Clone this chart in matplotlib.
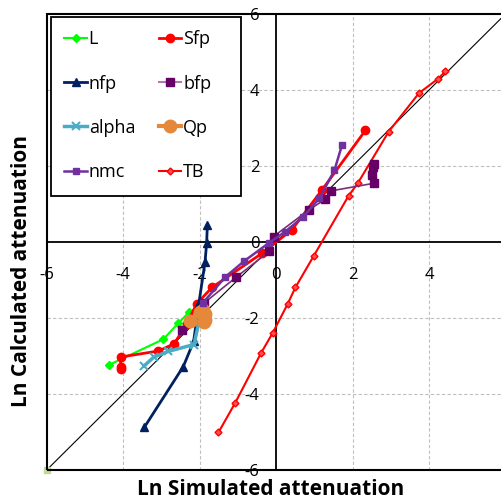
import matplotlib
matplotlib.use("Agg")
import matplotlib.pyplot as plt
from matplotlib.patches import Rectangle

plt.rcParams['font.family'] = ['Open Sans', 'DejaVu Sans']

# ---- data (ln simulated, ln calculated) ----
L_x = [-4.38, -2.95, -2.56, -2.27, -2.02]
L_y = [-3.24, -2.56, -2.14, -1.84, -1.72]

Sfp_x = [-4.07, -4.07, -4.07, -3.08, -2.67, -2.34, -2.08, -1.68, -0.37, 0.41, 1.20, 2.33]
Sfp_y = [-3.35, -3.28, -3.03, -2.87, -2.68, -2.16, -1.63, -1.20, -0.30, 0.32, 1.37, 2.93]

nfp_x = [-3.45, -2.43, -2.16, -2.02, -1.86, -1.82, -1.80]
nfp_y = [-4.88, -3.28, -2.62, -1.60, -0.52, -0.03, 0.45]

bfp_x = [-2.47, -1.90, -1.05, -0.18, -0.07, 0.85, 1.28, 1.43, 2.55, 2.49, 2.53, 2.55]
bfp_y = [-2.32, -1.62, -0.93, -0.25, 0.14, 0.84, 1.12, 1.34, 1.54, 1.76, 1.97, 2.05]

alpha_x = [-3.45, -3.20, -2.82, -2.15, -2.02, -1.97]
alpha_y = [-3.26, -3.03, -2.88, -2.70, -2.10, -1.90]

Qp_x = [-2.25, -2.00, -1.92, -1.85, -1.85, -1.90]
Qp_y = [-2.08, -1.85, -1.78, -1.90, -2.05, -2.10]

nmc_x = [-1.92, -1.34, -0.83, -0.18, 0.24, 0.70, 1.13, 1.52, 1.72]
nmc_y = [-1.61, -0.93, -0.50, -0.02, 0.27, 0.65, 1.15, 1.88, 2.55]

TB_x = [-1.51, -1.07, -0.40, -0.09, 0.30, 0.50, 0.98, 1.89, 2.13, 2.94, 3.73, 4.23, 4.42]
TB_y = [-5.01, -4.23, -2.93, -2.39, -1.63, -1.20, -0.37, 1.21, 1.54, 2.90, 3.91, 4.29, 4.48]

ref_line = [-6, 6]
ticks = [-6, -4, -2, 0, 2, 4, 6]
legend_order = ["L", "nfp", "alpha", "nmc", "Sfp", "bfp", "Qp", "TB"]

fig = plt.figure(figsize=(5.02, 5.01), dpi=100)
ax = fig.add_axes([46.7 / 502, 31 / 501, 459.1 / 502, 456.3 / 501])
ax.set_xlim(-6, 6)
ax.set_ylim(-6, 6)

# grid
for v in [-4, -2, 2, 4]:
    ax.axvline(v, color='#BFBFBF', lw=0.8, ls=(0, (3, 2)), zorder=0)
    ax.axhline(v, color='#BFBFBF', lw=0.8, ls=(0, (3, 2)), zorder=0)

# 1:1 line
ax.plot(ref_line, ref_line, color='black', lw=0.8, zorder=1)
ax.plot(ref_line[:1], ref_line[:1], marker='s', ms=4, color='#C3D69B', ls='none', clip_on=False, zorder=1)

h = {}
h['L'], = ax.plot(L_x, L_y, color='#00FF00', lw=1.5, marker='D', ms=4.5, zorder=3)
h['Sfp'], = ax.plot(Sfp_x, Sfp_y, color='#FF0000', lw=2, marker='o', ms=6, zorder=3)
h['nfp'], = ax.plot(nfp_x, nfp_y, color='#002060', lw=2, marker='^', ms=5.5, zorder=3)
ax.plot(bfp_x, bfp_y, color='#7A2D7A', lw=1.2, marker='s', ms=6, mfc='#660066', mec='#660066', zorder=4)
h['bfp'], = ax.plot([], [], color='#B07AB0', lw=1.5, marker='s', ms=6, mfc='#660066', mec='#660066')
h['alpha'], = ax.plot(alpha_x, alpha_y, color='#4BACC6', lw=2.5, marker='x', ms=6, mew=1.5, zorder=4)
h['Qp'], = ax.plot(Qp_x, Qp_y, color='#E6883A', lw=3, marker='o', ms=9, zorder=5)
h['nmc'], = ax.plot(nmc_x, nmc_y, color='#7030A0', lw=1.8, marker='s', ms=5, zorder=6)
h['TB'], = ax.plot(TB_x, TB_y, color='#FF0000', lw=1.5, marker='D', ms=3.5, mfc='#FF5050', zorder=3)

# spines through zero
for s in ['top', 'right']:
    ax.spines[s].set_visible(False)
ax.spines['left'].set_position(('data', 0))
ax.spines['bottom'].set_position(('data', 0))
ax.spines['left'].set_linewidth(1.3)
ax.spines['bottom'].set_linewidth(1.3)
ax.add_patch(Rectangle((0, 0), 1, 1, transform=ax.transAxes, fill=False,
                       ec='black', lw=1.5, clip_on=False, zorder=10))

ax.set_xticks(ticks)
ax.set_yticks(ticks)
ax.set_xticklabels([str(t) for t in ticks])
ax.set_yticklabels([str(t) for t in ticks])
ax.tick_params(axis='x', length=0, pad=18, labelsize=12)
ax.tick_params(axis='y', length=0, pad=12, labelsize=12)

ax.set_xlabel("Ln Simulated attenuation", fontsize=15, fontweight='bold', va='center')
ax.xaxis.set_label_coords(0.487, -0.043)
ax.set_ylabel("Ln Calculated attenuation", fontsize=15, fontweight='bold', va='center')
ax.yaxis.set_label_coords(-0.054, 0.436)

# legend box (drawn separately to match the reference size)
ax.add_patch(Rectangle((0.0094, 0.6005), 0.4138, 0.3923, transform=ax.transAxes,
                       facecolor='white', edgecolor='black', lw=1.3, zorder=19))
leg = ax.legend([h[k] for k in legend_order], legend_order, loc='upper left',
                bbox_to_anchor=(0.009, 0.993), ncol=2, fontsize=13,
                frameon=False,
                handlelength=1.25, handletextpad=0.1, columnspacing=1.3,
                labelspacing=1.45, borderpad=0.75, borderaxespad=0)
leg.set_zorder(20)

fig.savefig("out.png", dpi=100)
